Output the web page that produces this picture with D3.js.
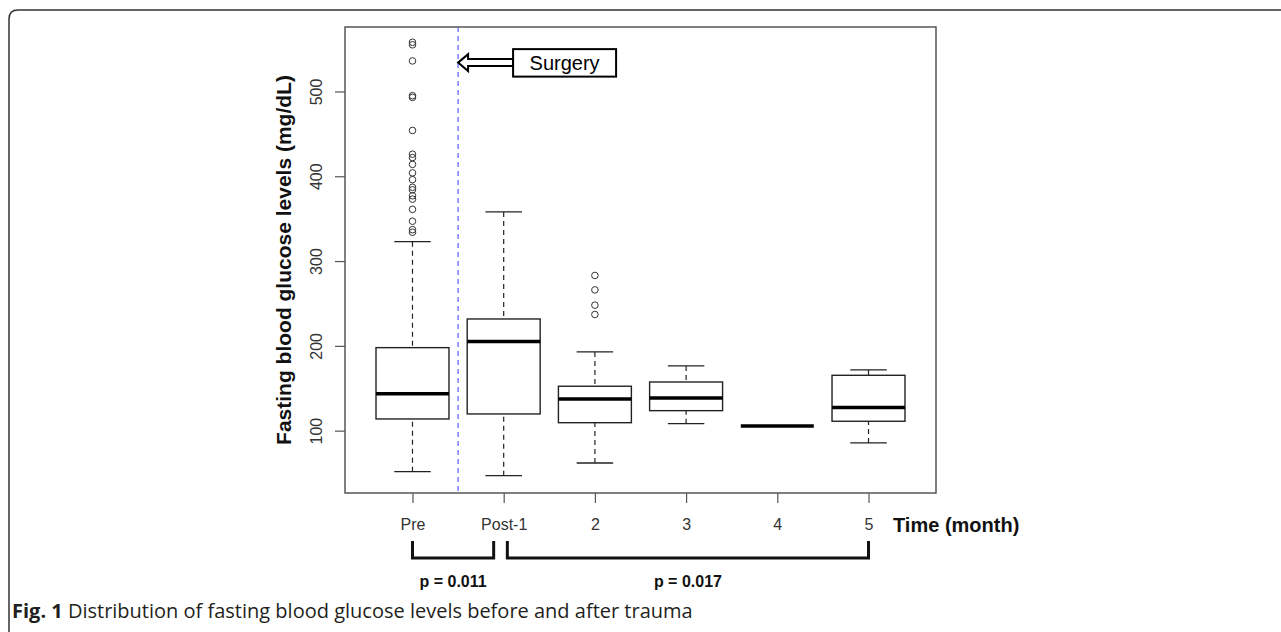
<!DOCTYPE html>
<meta charset="utf-8">
<script src="https://d3js.org/d3.v7.min.js"></script>

<style>
  body {
    margin: 0;
    background: #fff;
  }

  .axis text {
    font-family: "Liberation Sans", Arial, sans-serif;
    font-size: 16px;
    fill: #333;
  }

  .axis path {
    display: none;
  }

  .axis line {
    stroke: #555;
    stroke-width: 1.2px;
  }

  .caption {
    font-family: "Open Sans", sans-serif;
    font-size: 20px;
    fill: #231f20;
  }
</style>

<body>
  <div id="chart"></div>

  <script>
    // data
    const categories = ["Pre", "Post-1", "2", "3", "4", "5"];
    const whiskerLow  = [51.7, 46.9, 61.9, 108.3, 105.5, 85.5];
    const q1          = [113.8, 119.7, 109.4, 123.6, 105.5, 111.1];
    const median      = [143.6, 205.0, 137.4, 138.6, 105.5, 127.2];
    const q3          = [197.9, 231.7, 152.4, 157.4, 105.5, 165.3];
    const whiskerHigh = [322.9, 357.9, 192.8, 176.3, 105.5, 171.6];
    const outliersPre = [558, 555, 536, 495, 493, 454, 426, 422, 414, 404, 396, 387, 384, 377, 373, 361, 347, 337, 334];
    const outliersM2  = [283, 266, 248, 237];
    const yTicks = [100, 200, 300, 400, 500];
    const brackets = [
      {from: 1, to: 1.89, label: "p = 0.011"},
      {from: 2.04, to: 6, label: "p = 0.017"}
    ];
    const surgeryAt = {x: 1.5, y: 534, label: "Surgery"};

    let width = 1281,
        height = 632,
        plot = {left: 345, right: 936, top: 27, bottom: 493};

    const svg = d3.select("#chart")
      .append("svg")
      .attr("width", width)
      .attr("height", height);

    // outer figure frame (rounded top-left corner)
    svg.append("path")
      .attr("d", "M9,640 L9,19 Q9,10 18,10 L1290,10")
      .attr("fill", "none")
      .attr("stroke", "#333")
      .attr("stroke-width", 1.5);

    const x = d3.scaleLinear().domain([0.26, 6.74]).range([plot.left, plot.right]);
    const y = d3.scaleLinear().domain([26.5, 576]).range([plot.bottom, plot.top]);
    const bw = x(1.4) - x(1); // half box width
    const sw = x(1.2) - x(1); // half staple width

    const boxes = categories.map((c, i) => ({
      i: i + 1, lo: whiskerLow[i], q1: q1[i], med: median[i], q3: q3[i], hi: whiskerHigh[i]
    }));

    // surgery line
    svg.append("line")
      .attr("x1", x(surgeryAt.x)).attr("x2", x(surgeryAt.x))
      .attr("y1", plot.top).attr("y2", plot.bottom)
      .attr("stroke", "#3b3bff")
      .attr("stroke-width", 1)
      .attr("stroke-dasharray", "5,4");

    const g = svg.append("g");

    // whiskers
    g.selectAll("line.wlo").data(boxes).enter().append("line")
      .attr("x1", d => x(d.i)).attr("x2", d => x(d.i))
      .attr("y1", d => y(d.lo)).attr("y2", d => y(d.q1))
      .attr("stroke", "#222").attr("stroke-width", 1.2).attr("stroke-dasharray", "5,4");
    g.selectAll("line.whi").data(boxes).enter().append("line")
      .attr("x1", d => x(d.i)).attr("x2", d => x(d.i))
      .attr("y1", d => y(d.hi)).attr("y2", d => y(d.q3))
      .attr("stroke", "#222").attr("stroke-width", 1.2).attr("stroke-dasharray", "5,4");

    // staples
    ["lo", "hi"].forEach(k => {
      g.selectAll("line.staple-" + k).data(boxes).enter().append("line")
        .attr("x1", d => x(d.i) - sw).attr("x2", d => x(d.i) + sw)
        .attr("y1", d => y(d[k])).attr("y2", d => y(d[k]))
        .attr("stroke", "#222").attr("stroke-width", 1.3);
    });

    // boxes
    g.selectAll("rect.box").data(boxes).enter().append("rect")
      .attr("x", d => x(d.i) - bw)
      .attr("width", 2 * bw)
      .attr("y", d => y(d.q3))
      .attr("height", d => y(d.q1) - y(d.q3))
      .attr("fill", "#fff")
      .attr("stroke", "#222")
      .attr("stroke-width", 1.4);

    // medians
    g.selectAll("line.med").data(boxes).enter().append("line")
      .attr("x1", d => x(d.i) - bw).attr("x2", d => x(d.i) + bw)
      .attr("y1", d => y(d.med)).attr("y2", d => y(d.med))
      .attr("stroke", "#000").attr("stroke-width", 3.5);

    // outliers
    const outliers = outliersPre.map(v => ({i: 1, v}))
      .concat(outliersM2.map(v => ({i: 3, v})));
    g.selectAll("circle").data(outliers).enter().append("circle")
      .attr("cx", d => x(d.i))
      .attr("cy", d => y(d.v))
      .attr("r", 3.3)
      .attr("fill", "none")
      .attr("stroke", "#333")
      .attr("stroke-width", 1);

    // plot frame
    svg.append("rect")
      .attr("x", plot.left).attr("y", plot.top)
      .attr("width", plot.right - plot.left)
      .attr("height", plot.bottom - plot.top)
      .attr("fill", "none")
      .attr("stroke", "#555")
      .attr("stroke-width", 1.5);

    // axes
    svg.append("g")
      .attr("class", "axis")
      .attr("transform", `translate(0,${plot.bottom})`)
      .call(d3.axisBottom(x).tickValues(d3.range(1, 7)).tickFormat(i => categories[i - 1]).tickSize(10).tickPadding(16));

    svg.append("g")
      .attr("class", "axis")
      .attr("transform", `translate(${plot.left},0)`)
      .call(d3.axisLeft(y).tickValues(yTicks).tickSize(10))
      .selectAll("text")
      .attr("x", null).attr("dy", null)
      .attr("text-anchor", "middle")
      .attr("transform", "translate(-23,0) rotate(-90)");

    // axis titles
    svg.append("text")
      .attr("transform", `translate(291,${(plot.top + plot.bottom) / 2}) rotate(-90)`)
      .attr("text-anchor", "middle")
      .style("font", "bold 21px 'Liberation Sans', Arial, sans-serif")
      .attr("fill", "#111")
      .text("Fasting blood glucose levels (mg/dL)");

    svg.append("text")
      .attr("x", 893).attr("y", 532)
      .style("font", "bold 20px 'Liberation Sans', Arial, sans-serif")
      .attr("fill", "#111")
      .text("Time (month)");

    // surgery annotation
    const tx = x(surgeryAt.x), ty = y(surgeryAt.y);
    svg.append("path")
      .attr("d", `M${tx},${ty} l10,-8.5 v5 h45 v7 h-45 v5 z`)
      .attr("fill", "#fff")
      .attr("stroke", "#000")
      .attr("stroke-width", 2)
      .attr("stroke-linejoin", "miter");
    svg.append("rect")
      .attr("x", tx + 55).attr("y", ty - 13.5)
      .attr("width", 103).attr("height", 27.5)
      .attr("fill", "#fff")
      .attr("stroke", "#000")
      .attr("stroke-width", 2);
    svg.append("text")
      .attr("x", tx + 106.5).attr("y", ty + 7.5)
      .attr("text-anchor", "middle")
      .style("font", "20px 'Liberation Sans', Arial, sans-serif")
      .attr("fill", "#000")
      .text(surgeryAt.label);

    // significance brackets
    const bTop = 541, bBot = 558;
    svg.selectAll("path.bracket").data(brackets).enter().append("path")
      .attr("d", d => `M${x(d.from)},${bTop} V${bBot} H${x(d.to)} V${bTop}`)
      .attr("fill", "none")
      .attr("stroke", "#111")
      .attr("stroke-width", 3);
    svg.selectAll("text.plabel").data(brackets).enter().append("text")
      .attr("x", d => (x(d.from) + x(d.to)) / 2)
      .attr("y", 587)
      .attr("text-anchor", "middle")
      .style("font", "bold 16px 'Liberation Sans', Arial, sans-serif")
      .attr("fill", "#111")
      .text(d => d.label);

    // caption
    const cap = svg.append("text")
      .attr("class", "caption")
      .attr("x", 12).attr("y", 618);
    cap.append("tspan").attr("font-weight", "bold").text("Fig. 1");
    cap.append("tspan").text(" Distribution of fasting blood glucose levels before and after trauma");
  </script>
</body>
